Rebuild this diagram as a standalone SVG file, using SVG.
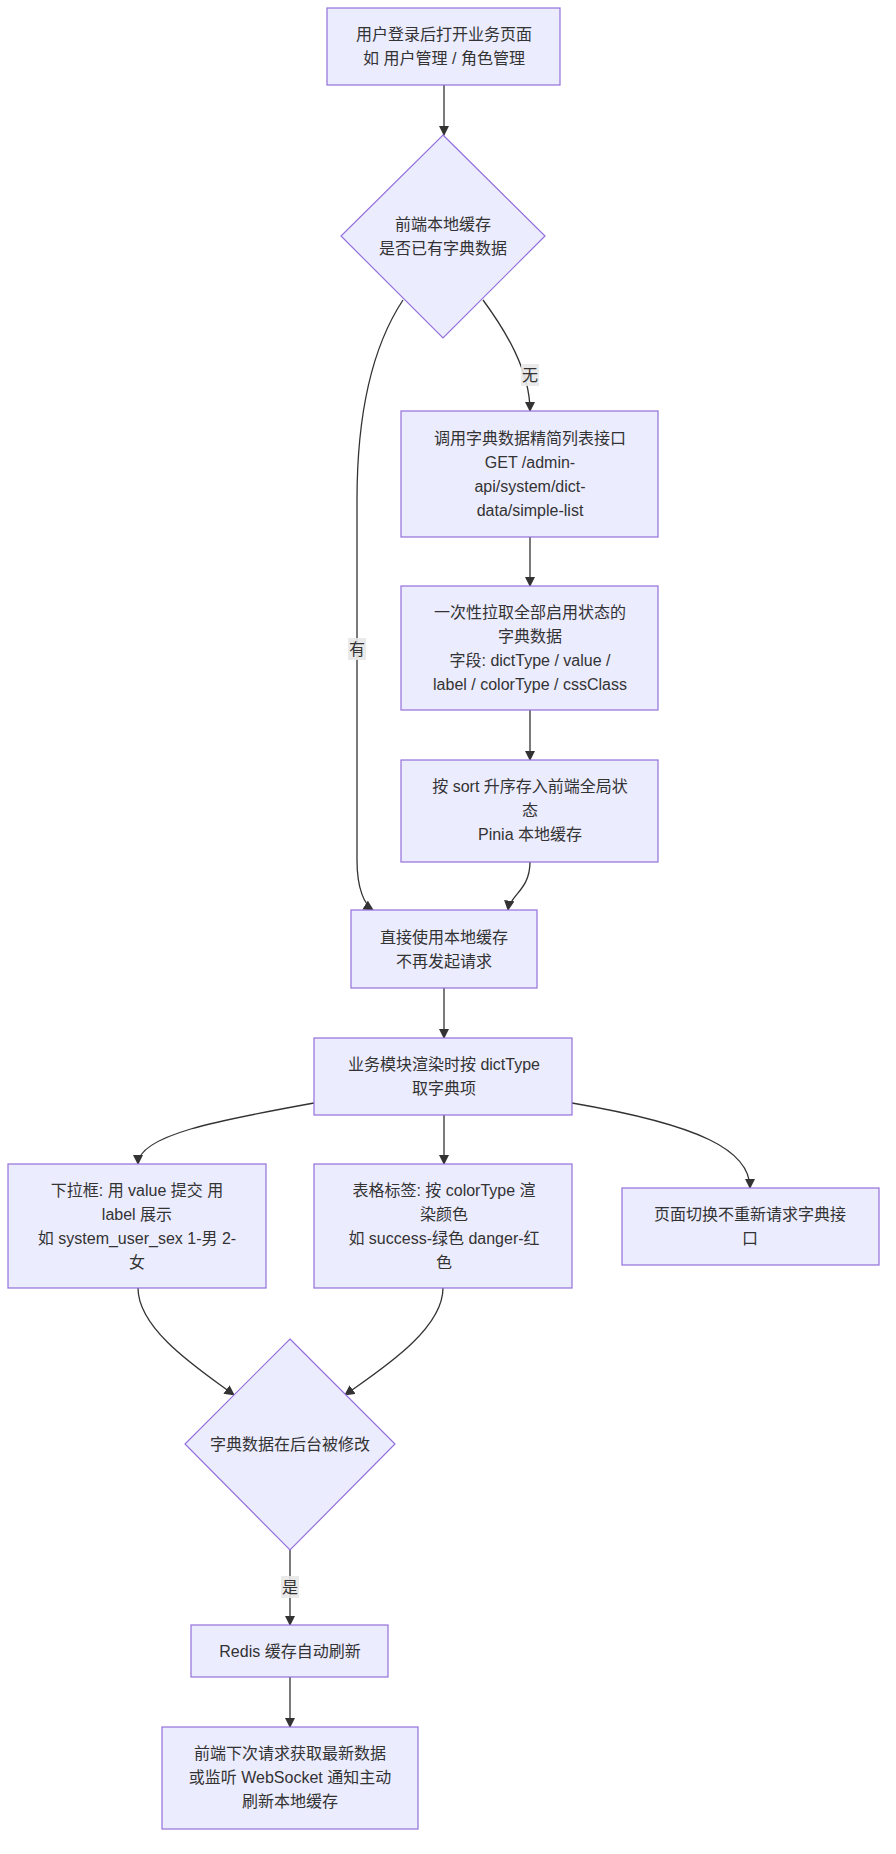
<svg xmlns="http://www.w3.org/2000/svg" width="896" height="1854" viewBox="0 0 896 1854">
<defs>
<marker id="a" viewBox="0 0 10 10" refX="9" refY="5" markerWidth="8" markerHeight="8" orient="auto"><path d="M0,0L10,5L0,10z" fill="#333"/></marker>
<style>
.n{fill:#ECECFF;stroke:#9370DB;stroke-width:1.2}
.e{fill:none;stroke:#333;stroke-width:1.3;marker-end:url(#a)}
text{font-family:"Liberation Sans","Noto Sans CJK SC",sans-serif;font-size:16px;fill:#333;text-anchor:middle}
.lb{fill:#e8e8e8;opacity:.9}
</style>
</defs>
<rect width="896" height="1854" fill="#fff"/>
<g id="edges">
<path class="e" d="M444,85L444,135"/>
<path class="e" d="M483,300C505,330 530,370 530,411"/>
<path class="e" d="M403,300C370,350 357,420 357,500L357,860C357,890 365,905 373,910"/>
<path class="e" d="M530,537L530,586"/>
<path class="e" d="M530,710L530,760"/>
<path class="e" d="M530,862C530,890 510,895 508,910"/>
<path class="e" d="M444,988L444,1038"/>
<path class="e" d="M314,1103C220,1120 138,1135 138,1164"/>
<path class="e" d="M444,1115L444,1164"/>
<path class="e" d="M572,1103C700,1125 750,1150 750,1188"/>
<path class="e" d="M138,1288C138,1330 200,1370 234,1395"/>
<path class="e" d="M443,1288C443,1330 380,1370 345,1395"/>
<path class="e" d="M290,1550L290,1625"/>
<path class="e" d="M290,1677L290,1727"/>
<rect class="lb" x="521" y="364" width="18" height="22"/><text x="530" y="381">无</text>
<rect class="lb" x="348" y="638" width="18" height="22"/><text x="357" y="655">有</text>
<rect class="lb" x="281" y="1576" width="18" height="22"/><text x="290" y="1593">是</text>
</g>
<g id="n1"><rect class="n" x="327" y="8" width="233" height="77"/><text x="444" y="40">用户登录后打开业务页面</text><text x="444" y="64">如 用户管理 / 角色管理</text></g>
<g id="n2"><path class="n" d="M443,135L545,236L443,338L341,236z"/><text x="443" y="230">前端本地缓存</text><text x="443" y="254">是否已有字典数据</text></g>
<g id="n3"><rect class="n" x="401" y="411" width="257" height="126"/><text x="530" y="444">调用字典数据精简列表接口</text><text x="530" y="468">GET /admin-</text><text x="530" y="492">api/system/dict-</text><text x="530" y="516">data/simple-list</text></g>
<g id="n4"><rect class="n" x="401" y="586" width="257" height="124"/><text x="530" y="618">一次性拉取全部启用状态的</text><text x="530" y="642">字典数据</text><text x="530" y="666">字段: dictType / value /</text><text x="530" y="690">label / colorType / cssClass</text></g>
<g id="n5"><rect class="n" x="401" y="760" width="257" height="102"/><text x="530" y="792">按 sort 升序存入前端全局状</text><text x="530" y="816">态</text><text x="530" y="840">Pinia 本地缓存</text></g>
<g id="n6"><rect class="n" x="351" y="910" width="186" height="78"/><text x="444" y="943">直接使用本地缓存</text><text x="444" y="967">不再发起请求</text></g>
<g id="n7"><rect class="n" x="314" y="1038" width="258" height="77"/><text x="444" y="1070">业务模块渲染时按 dictType</text><text x="444" y="1094">取字典项</text></g>
<g id="n8"><rect class="n" x="8" y="1164" width="258" height="124"/><text x="137" y="1196">下拉框: 用 value 提交 用</text><text x="137" y="1220">label 展示</text><text x="137" y="1244">如 system_user_sex 1-男 2-</text><text x="137" y="1268">女</text></g>
<g id="n9"><rect class="n" x="314" y="1164" width="258" height="124"/><text x="444" y="1196">表格标签: 按 colorType 渲</text><text x="444" y="1220">染颜色</text><text x="444" y="1244">如 success-绿色 danger-红</text><text x="444" y="1268">色</text></g>
<g id="n10"><rect class="n" x="622" y="1188" width="257" height="77"/><text x="750" y="1220">页面切换不重新请求字典接</text><text x="750" y="1244">口</text></g>
<g id="n11"><path class="n" d="M290,1339L395,1444L290,1550L185,1444z"/><text x="290" y="1450">字典数据在后台被修改</text></g>
<g id="n12"><rect class="n" x="191" y="1625" width="197" height="52"/><text x="290" y="1657">Redis 缓存自动刷新</text></g>
<g id="n13"><rect class="n" x="162" y="1727" width="256" height="102"/><text x="290" y="1759">前端下次请求获取最新数据</text><text x="290" y="1783">或监听 WebSocket 通知主动</text><text x="290" y="1807">刷新本地缓存</text></g>
</svg>
